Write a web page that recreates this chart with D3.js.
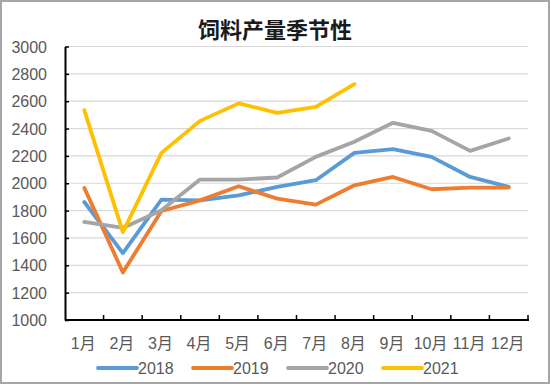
<!DOCTYPE html>
<html>
<head>
<meta charset="utf-8">
<script src="https://cdn.jsdelivr.net/npm/d3@7"></script>
<style>
  body { margin: 0; background: #fff; }
  text { font-family: 'Liberation Sans', Arial, 'Noto Sans CJK SC', sans-serif; }
</style>
</head>
<body>
<div id="chart"></div>
<script>
'use strict';

var months = ['1月', '2月', '3月', '4月', '5月', '6月', '7月', '8月', '9月', '10月', '11月', '12月'];
var yTicks = [1000, 1200, 1400, 1600, 1800, 2000, 2200, 2400, 2600, 2800, 3000];
var years = ['2018', '2019', '2020', '2021'];
var v2018 = [1863, 1489, 1880, 1875, 1912, 1973, 2022, 2222, 2249, 2193, 2046, 1973];
var v2019 = [1966, 1348, 1797, 1875, 1978, 1888, 1844, 1985, 2046, 1956, 1968, 1968];
var v2020 = [1717, 1673, 1802, 2027, 2027, 2042, 2193, 2303, 2442, 2383, 2237, 2327];
var v2021 = [2535, 1643, 2222, 2456, 2584, 2515, 2559, 2725];

var colors = ['#5B9BD5', '#ED7D31', '#A5A5A5', '#FFC000'];
var series = [v2018, v2019, v2020, v2021];

var w = 550, h = 384;
var pLeft = 65, pRight = 528, pTop = 46.5, pBottom = 320;

var svg = d3.select('#chart').append('svg')
    .attr('width', w)
    .attr('height', h);

svg.append('rect')
    .attr('x', 1).attr('y', 1)
    .attr('width', w - 2).attr('height', h - 2)
    .attr('fill', '#fff')
    .attr('stroke', '#a6a6a6')
    .attr('stroke-width', 2);

var x = d3.scaleBand().domain(months).range([pLeft, pRight]);
var y = d3.scaleLinear().domain([1000, 3000]).range([pBottom, pTop]);

// gridlines
svg.append('g').selectAll('line')
    .data(yTicks.slice(1))
    .enter().append('line')
    .attr('x1', pLeft).attr('x2', pRight)
    .attr('y1', function (d) { return y(d); })
    .attr('y2', function (d) { return y(d); })
    .attr('stroke', '#d9d9d9')
    .attr('stroke-width', 1.2);

// y axis
var yAxis = svg.append('g')
    .attr('transform', 'translate(' + pLeft + ',0)')
    .call(d3.axisRight(y).tickValues(yTicks).tickSize(4).tickSizeOuter(0).tickFormat(''));
yAxis.select('.domain').attr('stroke', '#000').attr('stroke-width', 2);
yAxis.selectAll('.tick line').attr('stroke', '#000').attr('stroke-width', 1.5);

svg.append('g').selectAll('text')
    .data(yTicks)
    .enter().append('text')
    .attr('x', 47)
    .attr('y', function (d) { return y(d) + 6; })
    .attr('text-anchor', 'end')
    .attr('font-size', '16px')
    .attr('fill', '#595959')
    .text(function (d) { return d; });

// x axis
var edges = months.map(function (m) { return x(m); }).concat([pRight]);
svg.append('line')
    .attr('x1', pLeft).attr('x2', pRight + 1)
    .attr('y1', pBottom).attr('y2', pBottom)
    .attr('stroke', '#000').attr('stroke-width', 2);
svg.append('g').selectAll('line')
    .data(edges.slice(1))
    .enter().append('line')
    .attr('x1', function (d) { return d; })
    .attr('x2', function (d) { return d; })
    .attr('y1', pBottom).attr('y2', pBottom - 5)
    .attr('stroke', '#000').attr('stroke-width', 1.5);

svg.append('g').selectAll('text')
    .data(months)
    .enter().append('text')
    .attr('x', function (d) { return x(d) + x.bandwidth() / 2 - 1; })
    .attr('y', 349)
    .attr('text-anchor', 'middle')
    .attr('font-size', '16px')
    .attr('fill', '#595959')
    .text(function (d) { return d; });

// lines
var line = d3.line()
    .x(function (d, i) { return x(months[i]) + x.bandwidth() / 2; })
    .y(function (d) { return y(d); });

svg.append('g').selectAll('path')
    .data(series)
    .enter().append('path')
    .attr('d', function (d) { return line(d); })
    .attr('fill', 'none')
    .attr('stroke', function (d, i) { return colors[i]; })
    .attr('stroke-width', 3.8)
    .attr('stroke-linejoin', 'round')
    .attr('stroke-linecap', 'round');

// title
svg.append('text')
    .attr('x', 275)
    .attr('y', 38)
    .attr('text-anchor', 'middle')
    .attr('font-family', "'Noto Sans CJK SC', sans-serif")
    .attr('font-weight', 'bold')
    .attr('font-size', '22px')
    .attr('fill', '#1a1a1a')
    .text('饲料产量季节性');

// legend
var lg = svg.append('g').selectAll('g')
    .data(years)
    .enter().append('g')
    .attr('transform', function (d, i) { return 'translate(' + (98 + i * 95) + ',368)'; });
lg.append('line')
    .attr('x1', 0).attr('x2', 39)
    .attr('y1', 0).attr('y2', 0)
    .attr('stroke', function (d, i) { return colors[i]; })
    .attr('stroke-width', 3.8)
    .attr('stroke-linecap', 'round');
lg.append('text')
    .attr('x', 40)
    .attr('y', 6)
    .attr('font-size', '16px')
    .attr('fill', '#595959')
    .text(function (d) { return d; });
</script>
</body>
</html>
